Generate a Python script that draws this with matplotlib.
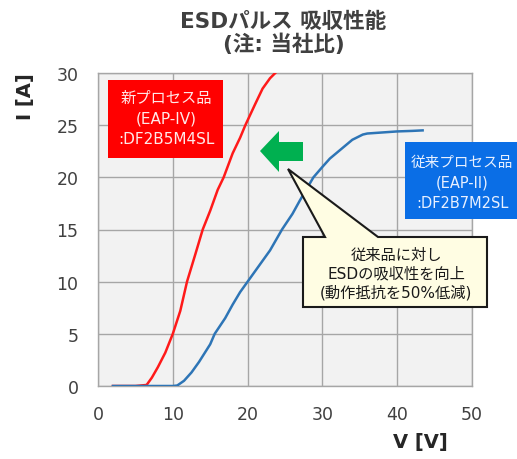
import matplotlib
matplotlib.use("Agg")
import matplotlib.pyplot as plt
from matplotlib.patches import Polygon, Rectangle

plt.rcParams['font.family'] = ['DejaVu Sans', 'Noto Sans CJK JP']

# Data
new_v = [2, 5, 6.5, 7.2, 8, 9, 10, 11, 11.9, 13, 14, 15, 16, 16.8, 18, 19, 19.7, 21, 22, 23, 23.7]
new_i = [0, 0, 0.1, 0.8, 1.8, 3.2, 5, 7.2, 10, 12.6, 15, 16.8, 18.8, 20, 22.3, 23.8, 25, 27, 28.5, 29.5, 30]
old_v = [2, 5, 8, 10, 10.6, 11.5, 12.5, 13.5, 15, 15.6, 17, 18, 19, 20, 21, 22, 23, 24.6, 26, 27,
         28.8, 30, 31, 32, 33, 34, 35.4, 36, 38, 40, 42, 43.4]
old_i = [0, 0, 0, 0, 0.05, 0.5, 1.3, 2.3, 4, 5, 6.5, 7.8, 9, 10, 11, 12, 13, 15, 16.5, 17.8,
         20, 21, 21.8, 22.4, 23, 23.6, 24.1, 24.2, 24.3, 24.4, 24.45, 24.5]
xticks = [0, 10, 20, 30, 40, 50]
yticks = [0, 5, 10, 15, 20, 25, 30]

W, H = 517, 460
fig = plt.figure(figsize=(W / 100, H / 100), dpi=100)
fig.patch.set_facecolor('white')

def fx(px):
    return px / W

def fy(py):
    return 1 - py / H

ax = fig.add_axes([fx(98), fy(387), fx(472) - fx(98), fy(74) - fy(387)])
ax.set_facecolor('#f2f2f2')
ax.set_xlim(0, 50)
ax.set_ylim(0, 30)
ax.set_xticks(xticks)
ax.set_yticks(yticks)
ax.grid(True, color='#a6a6a6', linewidth=1.0)
ax.set_axisbelow(True)
for s in ax.spines.values():
    s.set_color('#a6a6a6')
    s.set_linewidth(1.0)
ax.tick_params(length=0, labelsize=12.5, colors='#404040')
ax.tick_params(axis='y', pad=14)
ax.tick_params(axis='x', pad=14)

ax.plot(new_v, new_i, color='#ff1a1a', linewidth=1.8, zorder=3)
ax.plot(old_v, old_i, color='#2e75b6', linewidth=1.8, zorder=3)

# Title
fig.text(fx(283), fy(22), 'ESDパルス 吸収性能', ha='center', va='center',
         fontsize=15.5, fontweight='bold', color='#404040')
fig.text(fx(284), fy(44), '(注: 当社比)', ha='center', va='center',
         fontsize=15.5, fontweight='bold', color='#404040')

# Axis labels
fig.text(fx(25), fy(97), 'I [A]', rotation=90, ha='center', va='center',
         fontsize=14, fontweight='bold', color='#262626')
fig.text(fx(420), fy(443), 'V [V]', ha='center', va='center',
         fontsize=14, fontweight='bold', color='#262626')

# Red label box
fig.patches.append(Rectangle((fx(108), fy(159)), fx(223) - fx(108), fy(81) - fy(159),
                             transform=fig.transFigure, facecolor='#ff0000', edgecolor='none', zorder=5))
for txt, y in [('新プロセス品', 98), ('(EAP-IV)', 119), (':DF2B5M4SL', 140)]:
    fig.text(fx(166), fy(y), txt, ha='center', va='center', fontsize=11, color='#ffe8e8', zorder=6)

# Blue label box
fig.patches.append(Rectangle((fx(405), fy(220)), fx(517) - fx(405), fy(143) - fy(220),
                             transform=fig.transFigure, facecolor='#0a6ee6', edgecolor='none', zorder=5))
for txt, y in [('従来プロセス品', 162), ('(EAP-II)', 183), (':DF2B7M2SL', 203)]:
    fig.text(fx(462), fy(y), txt, ha='center', va='center', fontsize=10.5, color='#e8f0ff', zorder=6)

# Green arrow (pointing left)
arrow_px = [(260, 152), (279, 132), (279, 143), (303, 143), (303, 162), (279, 162), (279, 173)]
fig.patches.append(Polygon([(fx(x), fy(y)) for x, y in arrow_px], closed=True,
                           transform=fig.transFigure, facecolor='#00b050', edgecolor='none', zorder=5))

# Callout
call_px = [(303, 238), (325, 238), (288, 170), (378, 238), (487, 238), (487, 308), (303, 308)]
fig.patches.append(Polygon([(fx(x), fy(y)) for x, y in call_px], closed=True,
                           transform=fig.transFigure, facecolor='#fffde3', edgecolor='#1a1a1a',
                           linewidth=1.5, zorder=5))
for txt, y in [('従来品に対し', 255), ('ESDの吸収性を向上', 274), ('(動作抵抗を50%低減)', 293)]:
    fig.text(fx(396), fy(y), txt, ha='center', va='center', fontsize=11, color='#1a1a1a', zorder=6)

fig.savefig('out.png', dpi=100)
